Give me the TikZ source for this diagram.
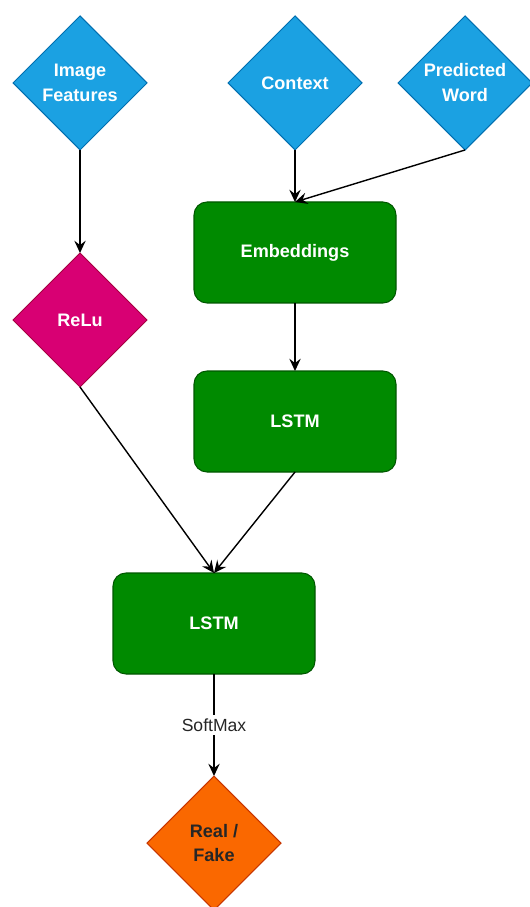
\documentclass[tikz,border=0pt]{standalone}
\usepackage{fontspec}
\setmainfont{Liberation Sans}
\usepackage{xcolor}
\usepackage{tikz}
\usetikzlibrary{shapes.geometric, arrows.meta, positioning}

\definecolor{inblue}{HTML}{1BA1E2}
\definecolor{inblueline}{HTML}{006EAF}
\definecolor{nngreen}{HTML}{008A00}
\definecolor{nngreenline}{HTML}{005700}
\definecolor{actpink}{HTML}{D80073}
\definecolor{actpinkline}{HTML}{A50040}
\definecolor{outorange}{HTML}{FA6800}
\definecolor{outorangeline}{HTML}{C73500}

\begin{document}
\begin{tikzpicture}[
  every node/.style={font=\fontsize{10.3}{14.2}\selectfont\bfseries},
  inputd/.style={diamond, aspect=1, draw=inblueline, fill=inblue,
                 text=white, minimum width=2.68cm, minimum height=2.68cm,
                 inner sep=0pt, outer sep=0pt, line width=0.6pt, align=center},
  actd/.style={inputd, draw=actpinkline, fill=actpink},
  outd/.style={inputd, draw=outorangeline, fill=outorange, text=black!85},
  layer/.style={rectangle, rounded corners=0.26cm, draw=nngreenline,
                fill=nngreen, text=white, minimum width=4.04cm,
                minimum height=2.02cm, outer sep=0pt, line width=0.6pt,
                align=center},
  arr/.style={-{Stealth[length=7pt, width=6.5pt, inset=2.5pt]},
              line width=0.8pt, black},
]
  \useasboundingbox (0,0) rectangle (10.58,-18.14);

  % Inputs
  \node[inputd] (feat) at (1.6,-1.66) {Image\\Features};
  \node[inputd, right=1.62cm of feat] (ctx)  {Context};
  \node[inputd, right=0.72cm of ctx]  (pred) {Predicted\\Word};

  % Text branch
  \node[layer, below=1.04cm of ctx]   (emb)   {Embeddings};
  \node[layer, below=1.36cm of emb]   (lstmA) {LSTM};

  % Image branch
  \node[actd, below=2.06cm of feat]   (relu)  {ReLu};

  % Merge and output
  \node[layer, below=2.02cm of lstmA, xshift=-1.62cm] (lstmB) {LSTM};
  \node[outd, below=2.04cm of lstmB]  (real)  {Real /\\Fake};

  % Arrows
  \foreach \a/\b in {feat/relu, ctx/emb, emb/lstmA, relu/lstmB, lstmA/lstmB}
    \draw[arr] (\a.south) -- (\b.north);
  \draw[arr] (pred.south) -- (emb.north);
  \draw[arr] (lstmB.south) -- node[fill=white, inner sep=2pt,
             font=\fontsize{10}{12}\selectfont, text=black!85]{SoftMax}
             (real.north);

\end{tikzpicture}
\end{document}
